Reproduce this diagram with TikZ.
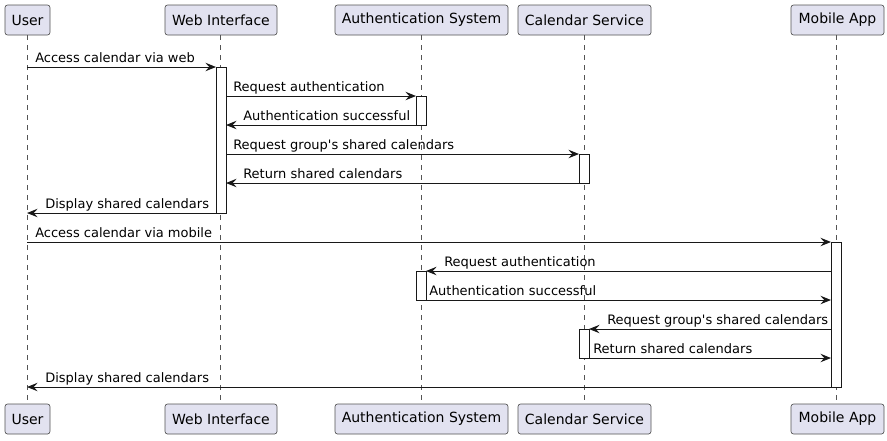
\documentclass[tikz,border=0pt]{standalone}
\usepackage{fontspec}
\setmainfont{DejaVu Sans}
\usetikzlibrary{arrows.meta}
\definecolor{pfill}{HTML}{E2E2F0}
\definecolor{pline}{HTML}{181818}
\definecolor{lline}{HTML}{555555}
\newcommand{\msgline}[6]{%
  \coordinate (#1s) at (#2,#4);
  \coordinate (#1e) at (#3,#4);
  \draw[msg] (#1s) -- (#1e);
  \node[lbl] (#1l) at (#5,#4-5) {#6};
}
\begin{document}
\begin{tikzpicture}[x=0.75pt,y=-0.75pt,
  font=\fontsize{9.75}{12}\selectfont,
  part/.style={draw=pline!75, fill=pfill, line width=0.5pt, rounded corners=1.9pt,
    minimum height=22.5pt, inner sep=0pt, font=\fontsize{10.5}{12}\selectfont},
  life/.style={draw=lline, line width=0.5pt, dash pattern=on 3.75pt off 3.75pt},
  act/.style={draw=pline, fill=white, line width=0.75pt},
  msg/.style={draw=pline, line width=0.75pt,
    -{Stealth[length=8pt,width=6.4pt,inset=3pt]}},
  lbl/.style={anchor=base west, inner sep=0pt, text=black}]
\useasboundingbox (0,0) rectangle (887,440);
% participants top
\node[part, minimum width=33.75pt] (U) at (27.5,20) {User};
\node[part, minimum width=84pt] (W) at (221,20) {Web Interface};
\node[part, minimum width=129.75pt] (A) at (421.5,20) {Authentication System};
\node[part, minimum width=99.75pt] (C) at (584.5,20) {Calendar Service};
\node[part, minimum width=69.75pt] (M) at (837.5,20) {Mobile App};
% participants bottom
\node[part, minimum width=33.75pt] (Ub) at (27.5,419) {User};
\node[part, minimum width=84pt] (Wb) at (221,419) {Web Interface};
\node[part, minimum width=129.75pt] (Ab) at (421.5,419) {Authentication System};
\node[part, minimum width=99.75pt] (Cb) at (584.5,419) {Calendar Service};
\node[part, minimum width=69.75pt] (Mb) at (837.5,419) {Mobile App};
% lifelines
\draw[life] (27,35) -- (27,404);
\draw[life] (220,35) -- (220,404);
\draw[life] (421,35) -- (421,404);
\draw[life] (584,35) -- (584,404);
\draw[life] (836,35) -- (836,404);
% activations
\filldraw[act] (216,67) rectangle (226,213);
\filldraw[act] (416,96) rectangle (426,125);
\filldraw[act] (579,154) rectangle (589,183);
\filldraw[act] (831,242) rectangle (841,387);
\filldraw[act] (416,271) rectangle (426,300);
\filldraw[act] (579,329) rectangle (589,358);
% messages
\msgline{m1}{27}{216}{67}{35}{Access calendar via web}
\msgline{m2}{226}{416}{96}{233}{Request authentication}
\msgline{m3}{416}{226}{125}{243}{Authentication successful}
\msgline{m4}{226}{579}{154}{233}{Request group\textquotesingle s shared calendars}
\msgline{m5}{579}{226}{183}{243}{Return shared calendars}
\msgline{m6}{216}{27}{213}{45}{Display shared calendars}
\msgline{m7}{27}{831}{242}{35}{Access calendar via mobile}
\msgline{m8}{831}{426}{271}{444}{Request authentication}
\msgline{m9}{426}{831}{300}{429}{Authentication successful}
\msgline{m10}{831}{589}{329}{607}{Request group\textquotesingle s shared calendars}
\msgline{m11}{589}{831}{358}{593}{Return shared calendars}
\msgline{m12}{831}{27}{387}{45}{Display shared calendars}
\end{tikzpicture}
\end{document}
